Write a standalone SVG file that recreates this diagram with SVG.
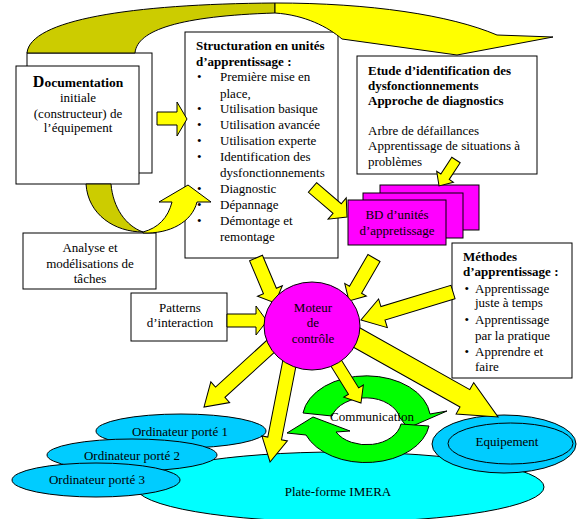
<svg xmlns="http://www.w3.org/2000/svg" width="577" height="519" viewBox="0 0 577 519">
<style>
.t{font-family:"Liberation Serif","Times New Roman",serif;font-size:13px;fill:#000}
.b{font-weight:bold}
.c{text-anchor:middle}
.box{fill:#fff;stroke:#000;stroke-width:1}
.mag{fill:#ff00ff;stroke:#000;stroke-width:1}
.blue{fill:#00ccff;stroke:#000;stroke-width:1}
.cyan{fill:#00ffff;stroke:#000;stroke-width:1}
.green{fill:#00ff00;stroke:#000;stroke-width:1;stroke-linejoin:miter}
.ya{fill:#ffff00;stroke:#000;stroke-width:1;stroke-linejoin:miter}
.yo{fill:#cccc00;stroke:#000;stroke-width:1}
</style>
<rect width="577" height="519" fill="#fff"/>

<g id="platform">
<ellipse class="cyan" cx="340" cy="487" rx="204" ry="35"/>
<text class="t c" x="338" y="496">Plate-forme IMERA</text>
</g>
<g id="ordinateur1">
<ellipse class="blue" cx="181" cy="431" rx="85" ry="17"/>
<text class="t c" x="180" y="436">Ordinateur porté 1</text>
</g>
<g id="ordinateur2">
<ellipse class="blue" cx="132" cy="455" rx="85" ry="16"/>
<text class="t c" x="132" y="460">Ordinateur porté 2</text>
</g>
<g id="ordinateur3">
<ellipse class="blue" cx="96" cy="480" rx="84" ry="17"/>
<text class="t c" x="97" y="484">Ordinateur porté 3</text>
</g>
<g id="equipement">
<ellipse class="blue" cx="504" cy="444" rx="72" ry="29"/>
<ellipse class="blue" cx="510.5" cy="443.5" rx="62.5" ry="20.5"/>
<text class="t c" x="507" y="446">Equipement</text>
</g>

<g id="communication">
<path class="green" d="M303,413 A64,43 0 0 1 430,414 L447,411 L408,428 L400,418 A35,25 0 0 0 332,416 Z"/>
<path class="green" d="M429,426 A64,43 0 0 1 306,435 L287,433 L313,417 L350,431 L336,432 A35,25 0 0 0 401,424 Z"/>
<text class="t c" x="372" y="420.5">Communication</text>
</g>

<g id="documentation">
<rect class="box" x="27" y="53" width="125" height="120"/>
<rect class="box" x="16" y="66" width="123" height="118"/>
<text class="t c b" x="78" y="87" style="font-size:13.5px"><tspan style="font-size:16px">D</tspan>ocumentation</text>
<text class="t c" x="78" y="102">initiale</text>
<text class="t c" x="78" y="117.5">(constructeur) de</text>
<text class="t c" x="78" y="132">l’équipement</text>
</g>

<g id="structuration">
<rect class="box" x="185" y="32" width="153" height="226"/>
<text class="t b" x="196" y="50">Structuration en unités</text>
<text class="t b" x="196" y="66">d’apprentissage :</text>
<text class="t" x="197" y="81">•</text><text class="t" x="220" y="81">Première mise en</text>
<text class="t" x="220" y="98">place,</text>
<text class="t" x="197" y="112.5">•</text><text class="t" x="220" y="112.5">Utilisation basique</text>
<text class="t" x="197" y="129">•</text><text class="t" x="220" y="129">Utilisation avancée</text>
<text class="t" x="197" y="145">•</text><text class="t" x="220" y="145">Utilisation experte</text>
<text class="t" x="197" y="161">•</text><text class="t" x="220" y="161">Identification des</text>
<text class="t" x="220" y="176.5">dysfonctionnements</text>
<text class="t" x="197" y="193">•</text><text class="t" x="220" y="193">Diagnostic</text>
<text class="t" x="197" y="209">•</text><text class="t" x="220" y="209">Dépannage</text>
<text class="t" x="197" y="225">•</text><text class="t" x="220" y="225">Démontage et</text>
<text class="t" x="220" y="241">remontage</text>
</g>

<g id="etude">
<rect class="box" x="357" y="56" width="180" height="118"/>
<text class="t b" x="368" y="75">Etude d’identification des</text>
<text class="t b" x="368" y="90">dysfonctionnements</text>
<text class="t b" x="368" y="104.5">Approche de diagnostics</text>
<text class="t" x="368" y="134.5">Arbre de défaillances</text>
<text class="t" x="368" y="150">Apprentissage de situations à</text>
<text class="t" x="368" y="165.5">problèmes</text>
</g>

<g id="bd">
<rect class="mag" x="380" y="185" width="99" height="45"/>
<rect class="mag" x="363" y="193" width="100" height="45"/>
<rect class="mag" x="348" y="200" width="98" height="45"/>
<text class="t c" x="397" y="218.5">BD d’unités</text>
<text class="t c" x="397" y="234.5">d’appretissage</text>
</g>

<g id="methodes">
<rect class="box" x="452" y="243" width="120" height="135"/>
<text class="t b" x="463" y="261">Méthodes</text>
<text class="t b" x="463" y="276">d’apprentissage :</text>
<text class="t" x="464.5" y="293">•</text><text class="t" x="475" y="293">Apprentissage</text>
<text class="t" x="475" y="307">juste à temps</text>
<text class="t" x="464.5" y="324">•</text><text class="t" x="475" y="324">Apprentissage</text>
<text class="t" x="475" y="339.5">par la pratique</text>
<text class="t" x="464.5" y="356">•</text><text class="t" x="475" y="356">Apprendre et</text>
<text class="t" x="475" y="371">faire</text>
</g>

<g id="analyse">
<rect class="box" x="23" y="233" width="133" height="56"/>
<text class="t c" x="90" y="252">Analyse et</text>
<text class="t c" x="90" y="268">modélisations de</text>
<text class="t c" x="90" y="282.5">tâches</text>
</g>

<g id="patterns">
<rect class="box" x="131" y="293" width="96" height="48"/>
<text class="t c" x="180" y="312">Patterns</text>
<text class="t c" x="180" y="327">d’interaction</text>
</g>

<g id="connectors">
<!-- top curved arrow: documentation -> etude -->
<path class="yo" d="M27,53 C30,20 130,4 275,3 L275,13 C180,16 137,30 135,53 Z"/>
<path class="ya" d="M275,3 C370,3 450,15 497,35 L553,37 L457,55 L342,39 C328,27 305,15 275,13 Z"/>
<!-- curved arrow under documentation -> structuration -->
<path class="yo" d="M86,184 L111,184 C113,208 126,226 143,232 C115,232 88,215 86,184 Z"/>
<path class="ya" d="M143,232 C158,228 168,218 172,202 L159,202 L188,185 L211,202 L197,202 C192,222 170,234 143,233 Z"/>
<!-- documentation -> structuration -->
<polygon class="ya" points="157,112 177,112 177,102 187,119 177,136 177,125 157,125"/>
<!-- structuration -> BD -->
<polygon class="ya" transform="translate(312.5,187.5) rotate(40.5)" points="0,-6.3 32.4,-6.3 32.4,-14 45.4,0 32.4,14 32.4,6.3 0,6.3"/>
<!-- etude -> BD -->
<polygon class="ya" transform="translate(456,160) rotate(123.2)" points="0,-5 20,-5 20,-10 31,0 20,10 20,5 0,5"/>
<!-- moteur -> outputs -->
<polygon class="ya" transform="translate(282,336) rotate(137.7)" points="0,-7 83.5,-7 83.5,-14 105.5,0 83.5,14 83.5,7 0,7"/>
<polygon class="ya" transform="translate(292,350) rotate(101.1)" points="0,-7 90.1,-7 90.1,-13 114.1,0 90.1,13 90.1,7 0,7"/>
<polygon class="ya" transform="translate(328,350) rotate(58.1)" points="0,-6 48.4,-6 48.4,-11.5 62.4,0 48.4,11.5 48.4,6 0,6"/>
<polygon class="ya" transform="translate(345,331) rotate(29.3)" points="0,-10 137.5,-10 137.5,-18 175.5,0 137.5,18 137.5,10 0,10"/>
<!-- inputs -> moteur -->
<polygon class="ya" transform="translate(256,258) rotate(67.1)" points="0,-7 35.8,-7 35.8,-13.5 48.8,0 35.8,13.5 35.8,7 0,7"/>
<polygon class="ya" points="227,314 256,314 256,306 267,321 256,335 256,327 227,327"/>
<polygon class="ya" transform="translate(374,258) rotate(120.2)" points="0,-7 36.7,-7 36.7,-12.5 49.7,0 36.7,12.5 36.7,7 0,7"/>
<polygon class="ya" transform="translate(453,292) rotate(163.1)" points="0,-7 73.2,-7 73.2,-15 96.2,0 73.2,15 73.2,7 0,7"/>
</g>

<g id="moteur">
<ellipse class="mag" cx="312" cy="326" rx="48" ry="44"/>
<text class="t c" x="313" y="311.5">Moteur</text>
<text class="t c" x="313" y="327">de</text>
<text class="t c" x="313" y="342.5">contrôle</text>
</g>
</svg>
